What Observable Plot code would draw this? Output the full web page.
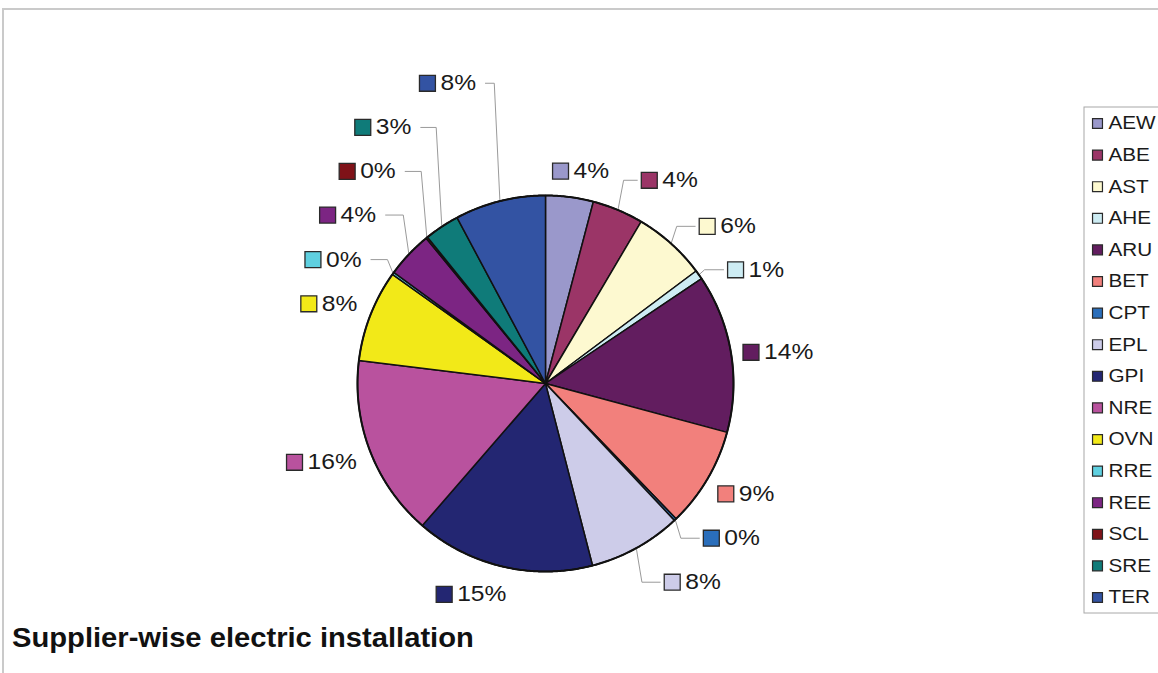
<!DOCTYPE html>
<html>
<head>
<meta charset="utf-8">
<script src="https://cdn.jsdelivr.net/npm/d3@7"></script>
<script src="https://cdn.jsdelivr.net/npm/@observablehq/plot@0.6"></script>
<style>
  body { margin: 0; background: #fff; }
  #wrap { position: relative; width: 1158px; height: 673px; overflow: hidden;
          font-family: "Liberation Sans", Arial, Helvetica, sans-serif; }
  #chart { position: absolute; left: 0; top: 0; }
  #frameTop { position: absolute; left: 3px; top: 8px; right: 0; height: 0; border-top: 2px solid #cacaca; }
  #frameLeft { position: absolute; left: 2px; top: 8px; bottom: 0; width: 0; border-left: 2px solid #cacaca; }
  #title { position: absolute; left: 12px; top: 625px; font-weight: bold; font-size: 27px; line-height: 27px;
           color: #111; white-space: nowrap; transform: scaleX(1.08); transform-origin: left center; }
</style>
</head>
<body>
<div id="wrap">
  <div id="frameTop"></div>
  <div id="frameLeft"></div>
  <div id="chart"></div>
  <div id="title">Supplier-wise electric installation</div>
</div>
<script>
// ---------- data ----------
const categories = ["AEW","ABE","AST","AHE","ARU","BET","CPT","EPL","GPI","NRE","OVN","RRE","REE","SCL","SRE","TER"];
const shares     = [4.1, 4.4, 6.3, 0.8, 13.6, 8.6, 0.2, 8.0, 15.4, 15.6, 7.9, 0.2, 4.0, 0.15, 3.0, 7.8];
const palette    = ["#9a98cb","#9b3567","#fdf9d0","#cdecf3","#621d5f","#f2807c","#2a6ebb","#cdcce9",
                    "#232672","#b9529e","#f2e918","#5fd0e0","#7c2583","#7f1218","#0f7b79","#3353a3"];

// ---------- layout (unit-circle coordinates, separate from data) ----------
const cx = 545, cy = 383, R = 188;              // pie placement in the SVG
const labelX = [0.080, 0.552, 0.860, 1.011, 1.093, 0.959, 0.882, 0.674, -0.539, -1.335, -1.259, -1.237, -1.159, -1.055, -0.972, -0.628];
const labelY = [1.130, 1.081, 0.836, 0.605, 0.166, -0.587, -0.823, -1.057, -1.122, -0.419, 0.424, 0.659, 0.896, 1.128, 1.362, 1.597];
const hasLeader = [false,true,true,true,false,false,true,true,false,false,false,true,true,true,true,true];

const total = d3.sum(shares);
const toUnitX = px => (px - cx) / R;
const toUnitY = py => (cy - py) / R;

// slice polygons
const slicePts = [];
const labels = [];
const leaders = [];
let cum = 0;
categories.forEach((key, i) => {
  const a0 = cum / total * 2 * Math.PI;
  cum += shares[i];
  const a1 = cum / total * 2 * Math.PI;
  const n = Math.max(2, Math.ceil((a1 - a0) / (Math.PI / 360)));
  slicePts.push({key, x: 0, y: 0});
  for (let k = 0; k <= n; k++) {
    const t = a0 + (a1 - a0) * k / n;
    slicePts.push({key, x: Math.sin(t), y: Math.cos(t)});
  }
  slicePts.push({key, x: 0, y: 0});
  const pct = Math.round(shares[i] / total * 100) + "%";
  labels.push({key, x: labelX[i], y: labelY[i], text: pct});
  if (hasLeader[i]) {
    const m = (a0 + a1) / 2;
    const ex = Math.sin(m), ey = Math.cos(m);
    const right = labelX[i] > ex;
    const side = right ? 1 : -1;
    const bx = ex + side * 0.03;
    const endX = right ? labelX[i] - 12 / R : labelX[i] + 58 / R;
    leaders.push({key, x: ex, y: ey});
    leaders.push({key, x: bx, y: labelY[i]});
    leaders.push({key, x: endX, y: labelY[i]});
  }
});

// outline circle
const outline = d3.range(0, 721).map(k => ({x: Math.sin(k / 720 * 2 * Math.PI), y: Math.cos(k / 720 * 2 * Math.PI)}));

// legend entries
const legendRows = categories.map((key, i) => ({key, x: toUnitX(1097), y: toUnitY(123 + i * 31.6)}));
const legendBox = [{x1: toUnitX(1084), x2: toUnitX(1175), y1: toUnitY(107), y2: toUnitY(613)}];

const plot = Plot.plot({
  width: 1158,
  height: 618,
  margin: 0,
  style: {fontFamily: "'Liberation Sans', Arial, Helvetica, sans-serif", background: "transparent", overflow: "visible"},
  x: {type: "linear", domain: [-1, 1], range: [cx - R, cx + R], axis: null},
  y: {type: "linear", domain: [-1, 1], range: [cy + R, cy - R], axis: null},
  color: {type: "ordinal", domain: categories, range: palette},
  marks: [
    Plot.line(leaders, {x: "x", y: "y", z: "key", stroke: "#9a9a9a", strokeWidth: 1, curve: "linear"}),
    Plot.line(slicePts, {x: "x", y: "y", z: "key", fill: "key", stroke: "#111", strokeWidth: 1.5, strokeLinejoin: "round", curve: "linear"}),
    Plot.line(outline, {x: "x", y: "y", stroke: "#111", strokeWidth: 2, curve: "linear"}),
    Plot.dot(labels, {x: "x", y: "y", fill: "key", symbol: "square", r: 9, stroke: "#2a2a2a", strokeWidth: 1.3}),
    Plot.text(labels, {x: "x", y: "y", text: "text", dx: 13, textAnchor: "start", fontSize: 22, fill: "#1a1a1a"}),
    Plot.rect(legendBox, {x1: "x1", x2: "x2", y1: "y1", y2: "y2", fill: "white", stroke: "#a8a8a8", strokeWidth: 1}),
    Plot.dot(legendRows, {x: "x", y: "y", fill: "key", symbol: "square", r: 5.6, stroke: "#2a2a2a", strokeWidth: 1.2}),
    Plot.text(legendRows, {x: "x", y: "y", text: "key", dx: 11, textAnchor: "start", fontSize: 18.5, fill: "#1a1a1a"})
  ]
});

// slight horizontal stretch of the text to match the reference's glyph proportions
plot.querySelectorAll("text").forEach(t => {
  const tr = t.getAttribute("transform");
  if (tr && tr.includes("translate")) t.setAttribute("transform", tr + " scale(1.12,1)");
});

document.getElementById("chart").appendChild(plot);
</script>
</body>
</html>
